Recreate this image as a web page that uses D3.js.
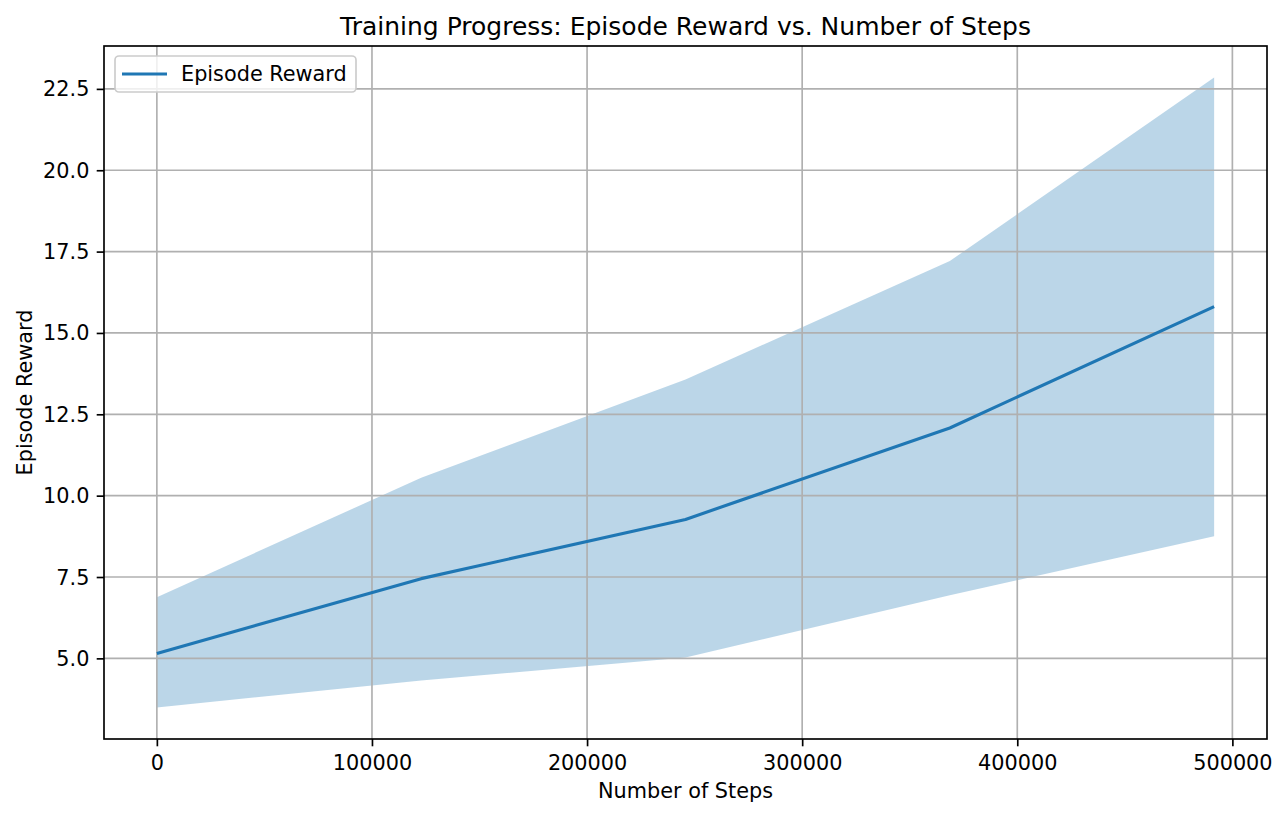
<html>
<head>
  <title>Training Progress</title>
  <meta charset="UTF-8">
  <style>
    body { margin: 0; background: #fff; }
    text { font-family: "DejaVu Sans", sans-serif; fill: #000; }
  </style>
</head>
<body>
<svg id="chart" width="1286" height="817"></svg>
<script src="https://cdn.jsdelivr.net/npm/d3@7"></script>
<script>
// data
var steps = [0, 122880, 245760, 368640, 491520];
var meanReward = [5.15, 7.45, 9.27, 12.08, 15.81];
var upperReward = [6.88, 10.55, 13.57, 17.21, 22.85];
var lowerReward = [3.49, 4.32, 5.03, 6.94, 8.75];
var xTicks = [0, 100000, 200000, 300000, 400000, 500000];
var yTicks = [5.0, 7.5, 10.0, 12.5, 15.0, 17.5, 20.0, 22.5];

var points = steps.map(function(s, i) {
  return {step: s, mean: meanReward[i], lo: lowerReward[i], hi: upperReward[i]};
});

// plot box (window.top is read-only, so don't call it "top")
var plotLeft = 104, plotRight = 1267, plotTop = 46, plotBottom = 739;
var blue = "#1f77b4";

// matplotlib style 5% margins
function pad(ext) {
  var d = (ext[1] - ext[0]) * 0.05;
  return [ext[0] - d, ext[1] + d];
}

var x = d3.scaleLinear()
  .domain(pad(d3.extent(steps)))
  .range([plotLeft, plotRight]);
var y = d3.scaleLinear()
  .domain(pad([d3.min(lowerReward), d3.max(upperReward)]))
  .range([plotBottom, plotTop]);

var svg = d3.select("#chart");

// shaded band
svg.append("path")
  .datum(points)
  .attr("fill", blue)
  .attr("fill-opacity", 0.3)
  .attr("d", d3.area()
    .x(function(d) { return x(d.step); })
    .y0(function(d) { return y(d.lo); })
    .y1(function(d) { return y(d.hi); }));

// grid (above the fill, below the line)
var grid = svg.append("g").attr("stroke", "#b0b0b0").attr("stroke-width", 1.67);
grid.selectAll("line.vx").data(xTicks).enter().append("line")
  .attr("x1", function(d) { return x(d); }).attr("x2", function(d) { return x(d); })
  .attr("y1", plotTop).attr("y2", plotBottom);
grid.selectAll("line.hy").data(yTicks).enter().append("line")
  .attr("y1", function(d) { return y(d); }).attr("y2", function(d) { return y(d); })
  .attr("x1", plotLeft).attr("x2", plotRight);

// mean line
svg.append("path")
  .datum(points)
  .attr("fill", "none")
  .attr("stroke", blue)
  .attr("stroke-width", 3.1)
  .attr("stroke-linejoin", "round")
  .attr("d", d3.line()
    .x(function(d) { return x(d.step); })
    .y(function(d) { return y(d.mean); }));

// axes
var xAxis = svg.append("g")
  .attr("transform", "translate(0," + plotBottom + ")")
  .call(d3.axisBottom(x).tickValues(xTicks).tickFormat(d3.format("d"))
    .tickSize(7.3).tickPadding(6).tickSizeOuter(0));
var yAxis = svg.append("g")
  .attr("transform", "translate(" + plotLeft + ",0)")
  .call(d3.axisLeft(y).tickValues(yTicks).tickFormat(d3.format(".1f"))
    .tickSize(7.3).tickPadding(7.3).tickSizeOuter(0));

[xAxis, yAxis].forEach(function(a) {
  a.select(".domain").remove();
  a.selectAll(".tick line").attr("stroke", "#000").attr("stroke-width", 1.67);
  a.selectAll(".tick text")
    .attr("font-family", "DejaVu Sans")
    .attr("font-size", 20.8)
    .attr("fill", "#000");
});
xAxis.selectAll(".tick text").attr("dy", null).attr("y", 31);
yAxis.selectAll(".tick text").attr("dy", null).attr("y", 7);

// spines
svg.append("rect")
  .attr("x", plotLeft).attr("y", plotTop)
  .attr("width", plotRight - plotLeft).attr("height", plotBottom - plotTop)
  .attr("fill", "none").attr("stroke", "#000").attr("stroke-width", 1.67);

// labels
svg.append("text")
  .attr("x", (plotLeft + plotRight) / 2).attr("y", 35)
  .attr("text-anchor", "middle").attr("font-size", 25)
  .text("Training Progress: Episode Reward vs. Number of Steps");
svg.append("text")
  .attr("x", (plotLeft + plotRight) / 2).attr("y", 798)
  .attr("text-anchor", "middle").attr("font-size", 20.8)
  .text("Number of Steps");
svg.append("text")
  .attr("transform", "translate(32," + (plotTop + plotBottom) / 2 + ") rotate(-90)")
  .attr("text-anchor", "middle").attr("font-size", 20.8)
  .text("Episode Reward");

// legend
var legend = svg.append("g");
legend.append("rect")
  .attr("x", 115).attr("y", 56).attr("width", 241).attr("height", 36)
  .attr("rx", 4).attr("ry", 4)
  .attr("fill", "#fff").attr("fill-opacity", 0.8)
  .attr("stroke", "#cccccc").attr("stroke-width", 1.67);
legend.append("line")
  .attr("x1", 122).attr("x2", 167).attr("y1", 74).attr("y2", 74)
  .attr("stroke", blue).attr("stroke-width", 3.1);
legend.append("text")
  .attr("x", 181).attr("y", 81).attr("font-size", 20.8)
  .text("Episode Reward");
</script>
</body>
</html>
